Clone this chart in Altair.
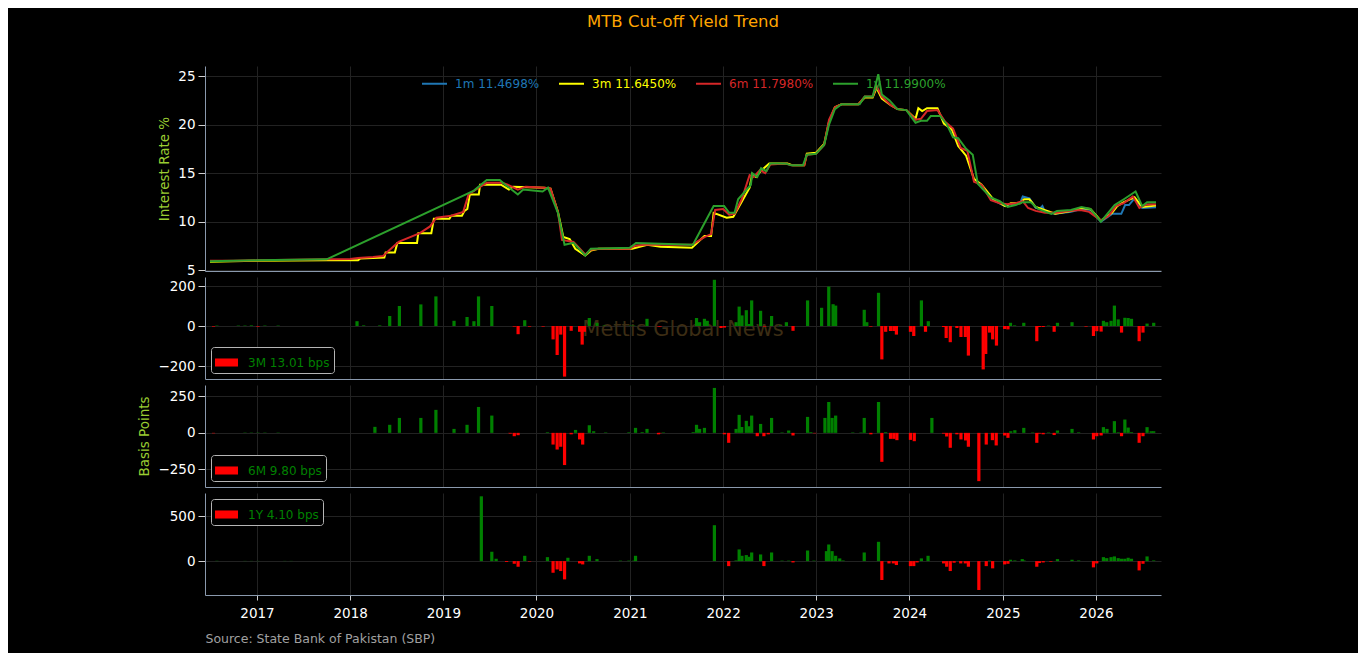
import altair as alt
import pandas as pd

# ---------------- yield lines (%) ----------------
m1_dates = ["2024-10-10", "2024-11-25", "2025-01-10", "2025-02-01", "2025-03-10", "2025-03-20",
            "2025-04-15", "2025-05-10", "2025-05-25", "2025-06-05", "2025-06-15", "2025-07-25",
            "2025-09-25", "2025-11-05", "2025-12-10", "2026-01-20", "2026-03-05", "2026-04-10",
            "2026-04-25", "2026-05-10", "2026-06-01", "2026-07-01", "2026-08-24"]
m1_rates = [13.6, 12.2, 11.6, 11.8, 11.9, 12.6, 12.4, 11.4, 11.3, 11.6, 11.0, 10.8,
            11.0, 11.3, 11.2, 10.0, 10.8, 10.8, 11.7, 11.7, 12.4, 11.4, 11.4698]

m3_dates = ["2016-07-01", "2017-01-01", "2017-10-01", "2018-02-01", "2018-02-10", "2018-05-15",
            "2018-05-20", "2018-06-25", "2018-07-05", "2018-09-20", "2018-09-25", "2018-11-15",
            "2018-11-25", "2019-01-25", "2019-02-01", "2019-03-15", "2019-03-25", "2019-04-05",
            "2019-04-15", "2019-05-20", "2019-05-25", "2019-08-15", "2019-09-15", "2019-10-01",
            "2020-02-01", "2020-02-25", "2020-03-25", "2020-04-15", "2020-05-10", "2020-06-01",
            "2020-07-10", "2020-08-01", "2020-09-01", "2021-01-10", "2021-03-10", "2021-05-01",
            "2021-09-01", "2021-10-20", "2021-11-15", "2021-11-25", "2022-01-15", "2022-02-10",
            "2022-04-15", "2022-04-25", "2022-05-10", "2022-06-01", "2022-07-01", "2022-09-10",
            "2022-10-01", "2022-11-15", "2022-11-25", "2022-12-31", "2023-02-01", "2023-02-20",
            "2023-03-15", "2023-04-10", "2023-06-15", "2023-07-10", "2023-08-10", "2023-08-25",
            "2023-09-15", "2023-10-20", "2023-11-15", "2023-12-20", "2024-01-25", "2024-02-05",
            "2024-02-20", "2024-03-10", "2024-04-20", "2024-05-15", "2024-06-15", "2024-07-10",
            "2024-08-10", "2024-09-10", "2024-10-10", "2024-11-25", "2025-01-10", "2025-02-01",
            "2025-03-10", "2025-03-25", "2025-04-15", "2025-05-10", "2025-07-25", "2025-09-25",
            "2025-11-05", "2025-12-10", "2026-01-20", "2026-03-05", "2026-03-25", "2026-04-20",
            "2026-06-01", "2026-07-01", "2026-08-24"]
m3_rates = [5.85, 5.95, 6.0, 6.0, 6.2, 6.3,
            6.8, 6.8, 7.8, 7.8, 8.8, 8.8,
            10.3, 10.3, 10.6, 10.6, 11.1, 11.3,
            12.8, 12.8, 13.8, 13.8, 13.3, 13.6,
            13.5, 13.4, 11.0, 8.4, 8.2, 7.2,
            6.5, 7.0, 7.2, 7.2, 7.6, 7.4,
            7.3, 8.5, 8.5, 10.9, 10.4, 10.5,
            13.5, 14.9, 14.6, 15.3, 16.0, 16.0,
            15.8, 15.8, 17.0, 17.1, 18.0, 20.3,
            21.8, 22.1, 22.1, 22.8, 22.8, 23.8,
            22.7, 22.0, 21.6, 21.5, 20.6, 21.7,
            21.4, 21.7, 21.7, 20.1, 19.5, 17.8,
            16.8, 14.4, 13.8, 12.3, 11.6, 11.9,
            11.9, 12.3, 12.3, 11.5, 10.8, 11.1,
            11.4, 11.3, 10.1, 10.9, 11.6, 12.0,
            12.5, 11.5, 11.645]

m6_dates = ["2016-07-01", "2016-10-01", "2017-01-01", "2017-06-01", "2017-10-01", "2018-01-01",
            "2018-02-01", "2018-04-01", "2018-05-10", "2018-06-01", "2018-07-10", "2018-10-01",
            "2018-11-10", "2018-12-05", "2019-02-01", "2019-03-20", "2019-04-10", "2019-05-20",
            "2019-06-20", "2019-08-20", "2019-09-10", "2019-10-20", "2019-11-20", "2020-02-01",
            "2020-02-25", "2020-03-25", "2020-04-10", "2020-05-25", "2020-07-10", "2020-08-01",
            "2020-09-01", "2020-12-31", "2021-01-20", "2021-03-01", "2021-09-01", "2021-10-20",
            "2021-11-15", "2021-12-01", "2022-01-01", "2022-01-25", "2022-02-15", "2022-03-15",
            "2022-04-15", "2022-05-01", "2022-05-25", "2022-06-15", "2022-07-05", "2022-09-01",
            "2022-09-25", "2022-11-15", "2022-11-25", "2022-12-31", "2023-02-01", "2023-02-20",
            "2023-03-15", "2023-04-10", "2023-06-15", "2023-07-10", "2023-08-10", "2023-08-25",
            "2023-09-15", "2023-10-20", "2023-11-15", "2023-12-20", "2024-01-25", "2024-02-15",
            "2024-03-10", "2024-04-20", "2024-05-20", "2024-06-20", "2024-07-20", "2024-08-15",
            "2024-09-10", "2024-10-10", "2024-11-15", "2024-12-20", "2025-01-20", "2025-02-20",
            "2025-03-20", "2025-04-10", "2025-05-10", "2025-06-15", "2025-08-01", "2025-09-15",
            "2025-11-01", "2025-12-05", "2026-01-20", "2026-02-20", "2026-03-20", "2026-04-20",
            "2026-05-25", "2026-06-20", "2026-07-15", "2026-08-24"]
m6_rates = [5.95, 5.95, 6.0, 6.05, 6.1, 6.15,
            6.25, 6.35, 6.45, 7.0, 7.9, 8.8,
            9.5, 10.4, 10.6, 11.0, 12.8, 13.5,
            14.0, 14.0, 13.8, 13.3, 13.6, 13.5,
            13.4, 11.0, 8.1, 7.9, 6.6, 7.1,
            7.2, 7.2, 7.5, 7.6, 7.6, 8.4,
            8.7, 11.2, 11.3, 10.7, 10.8, 12.3,
            14.8, 14.6, 15.3, 15.0, 15.9, 16.0,
            15.8, 15.8, 16.9, 17.0, 17.9, 20.5,
            21.8, 22.1, 22.1, 22.9, 22.9, 24.0,
            22.9, 22.0, 21.6, 21.5, 20.5, 20.6,
            21.4, 21.5, 20.3, 19.6, 17.6, 17.3,
            14.1, 13.8, 12.2, 11.9, 11.8, 11.9,
            12.1, 11.4, 11.1, 10.9, 10.9, 11.1,
            11.2, 11.0, 10.1, 10.6, 11.6, 11.9,
            12.6, 11.4, 11.75, 11.798]

y1_dates = ["2016-07-01", "2017-01-01", "2017-10-01", "2019-05-01", "2019-06-20", "2019-08-10",
            "2019-09-01", "2019-10-20", "2019-11-10", "2020-01-25", "2020-02-15", "2020-03-25",
            "2020-04-20", "2020-05-25", "2020-07-10", "2020-08-01", "2020-12-31", "2021-01-25",
            "2021-09-05", "2021-11-25", "2022-01-05", "2022-01-25", "2022-02-15", "2022-03-01",
            "2022-04-20", "2022-04-25", "2022-05-15", "2022-05-30", "2022-06-20", "2022-07-05",
            "2022-09-01", "2022-09-25", "2022-11-10", "2022-11-25", "2022-12-31", "2023-02-01",
            "2023-02-20", "2023-03-15", "2023-04-10", "2023-06-20", "2023-07-10", "2023-08-10",
            "2023-09-01", "2023-09-15", "2023-10-15", "2023-11-15", "2023-12-20", "2024-01-25",
            "2024-02-15", "2024-03-10", "2024-03-25", "2024-04-30", "2024-05-25", "2024-06-20",
            "2024-07-10", "2024-08-10", "2024-09-05", "2024-09-25", "2024-10-20", "2024-11-15",
            "2024-12-20", "2025-01-20", "2025-02-20", "2025-03-20", "2025-04-20", "2025-05-20",
            "2025-07-10", "2025-08-01", "2025-09-25", "2025-11-05", "2025-12-10", "2026-01-20",
            "2026-03-15", "2026-04-20", "2026-06-05", "2026-07-01", "2026-07-20", "2026-08-24"]
y1_rates = [5.9, 6.0, 6.1, 13.2, 14.3, 14.3,
            13.8, 12.8, 13.3, 13.1, 13.5, 10.9,
            7.6, 7.8, 6.5, 7.2, 7.3, 7.8,
            7.6, 11.6, 11.6, 10.9, 10.9, 12.3,
            13.8, 15.0, 14.6, 15.5, 15.2, 16.0,
            16.0, 15.8, 15.8, 16.9, 17.0, 17.9,
            20.0, 21.6, 22.1, 22.1, 22.9, 22.9,
            25.2, 23.1, 22.5, 21.6, 21.5, 20.2,
            20.4, 20.4, 20.9, 20.9, 20.1, 18.7,
            18.6, 17.5, 16.9, 13.9, 13.2, 12.5,
            12.1, 11.5, 11.7, 12.0, 12.0, 11.3,
            10.8, 11.1, 11.2, 11.5, 11.3, 10.0,
            11.7, 12.3, 13.1, 11.6, 12.0, 11.99]

series_labels = ["1m 11.4698%", "3m 11.6450%", "6m 11.7980%", "1y 11.9900%"]
series_colors = ["#1f77b4", "#ffff00", "#d62728", "#2ca02c"]

# ---------------- change bars (bps) ----------------
b3_dates = ["2016-07-15", "2016-07-28", "2016-10-20", "2016-11-15", "2016-12-10", "2017-01-05",
            "2017-02-01", "2017-03-25", "2018-01-28", "2018-02-23", "2018-04-27", "2018-06-05",
            "2018-07-13", "2018-10-05", "2018-12-03", "2019-02-12", "2019-04-04", "2019-05-01",
            "2019-05-19", "2019-07-10", "2019-10-06", "2019-10-21", "2019-11-16", "2019-12-05",
            "2020-01-27", "2020-03-06", "2020-03-22", "2020-04-05", "2020-04-20", "2020-05-16",
            "2020-06-18", "2020-06-28", "2020-07-07", "2020-07-26", "2020-08-25", "2020-09-22",
            "2021-01-03", "2021-01-16", "2021-03-09", "2021-04-23", "2021-04-29", "2021-09-19",
            "2021-10-01", "2021-10-20", "2021-10-31", "2021-11-28", "2021-12-24", "2022-01-06",
            "2022-02-21", "2022-03-05", "2022-03-16", "2022-04-02", "2022-04-13", "2022-04-23",
            "2022-05-28", "2022-06-13", "2022-07-10", "2022-08-14", "2022-09-06", "2022-10-02",
            "2022-11-28", "2023-01-22", "2023-02-19", "2023-03-08", "2023-03-18", "2023-07-08",
            "2023-07-18", "2023-08-03", "2023-09-02", "2023-09-15", "2023-09-30", "2023-10-19",
            "2023-11-01", "2023-11-11", "2024-01-05", "2024-01-18", "2024-02-17", "2024-03-04",
            "2024-03-15", "2024-05-14", "2024-05-24", "2024-06-09", "2024-07-05", "2024-07-21",
            "2024-08-07", "2024-08-19", "2024-10-16", "2024-10-26", "2024-11-10", "2024-11-22",
            "2024-12-07", "2025-01-08", "2025-01-21", "2025-01-31", "2025-02-16", "2025-03-24",
            "2025-05-14", "2025-05-24", "2025-06-08", "2025-06-29", "2025-07-21", "2025-08-03",
            "2025-09-29", "2025-11-23", "2025-12-22", "2026-01-04", "2026-01-21", "2026-01-30",
            "2026-02-12", "2026-03-01", "2026-03-14", "2026-03-29", "2026-04-11", "2026-04-24",
            "2026-05-07", "2026-05-20", "2026-06-19", "2026-07-04", "2026-07-20", "2026-08-15"]
b3_bps = [-3, 2, 2, 2, 3, -3,
          2, 2, 24, 3, 3, 50,
          100, 108, 148, 26, 45, 24,
          148, 100, -3, -41, 29, -3,
          -3, -67, -145, -43, -253, -24,
          -29, -93, -29, 40, 16, 2,
          2, 2, 36, -2, -3, 40,
          19, 36, 26, 231, -10, -8,
          19, 97, 53, 79, 10, 128,
          76, -3, 50, 3, 19, -24,
          128, 91, 197, 109, 102, 81,
          19, -3, 166, -167, -29, -25,
          -25, -43, -29, -50, 128, -29,
          24, -5, -60, -81, -10, -55,
          -55, -148, -217, -140, -33, -67,
          -98, -15, -17, 16, 3, 16,
          -76, -5, -5, 2, -29, 16,
          19, -3, -50, -26, -28, 26,
          19, 26, 102, 33, -33, 41,
          40, 36, -76, -33, 12, 16]

b6_dates = ["2016-07-15", "2016-11-15", "2016-12-10", "2017-01-05", "2017-02-01", "2017-03-25",
            "2018-04-08", "2018-06-05", "2018-07-13", "2018-10-05", "2018-12-03", "2019-02-12",
            "2019-04-04", "2019-05-19", "2019-07-10", "2019-09-20", "2019-10-06", "2019-10-21",
            "2020-02-13", "2020-03-06", "2020-03-22", "2020-04-05", "2020-04-20", "2020-05-16",
            "2020-06-02", "2020-06-18", "2020-06-30", "2020-07-26", "2020-08-12", "2020-09-28",
            "2020-12-28", "2021-01-23", "2021-02-18", "2021-03-09", "2021-04-23", "2021-04-29",
            "2021-05-12", "2021-09-06", "2021-09-19", "2021-10-01", "2021-10-20", "2021-11-28",
            "2022-01-06", "2022-01-23", "2022-02-21", "2022-03-05", "2022-03-15", "2022-04-02",
            "2022-04-13", "2022-04-23", "2022-05-15", "2022-05-28", "2022-06-10", "2022-06-27",
            "2022-07-10", "2022-08-20", "2022-09-15", "2022-10-02", "2022-11-28", "2022-12-11",
            "2022-12-26", "2023-02-04", "2023-02-19", "2023-03-04", "2023-03-18", "2023-05-24",
            "2023-06-25", "2023-07-08", "2023-08-03", "2023-09-02", "2023-09-15", "2023-09-30",
            "2023-10-19", "2023-11-01", "2023-11-13", "2024-01-05", "2024-01-20", "2024-03-29",
            "2024-05-14", "2024-05-26", "2024-06-09", "2024-07-05", "2024-07-21", "2024-08-08",
            "2024-08-19", "2024-09-29", "2024-10-28", "2024-11-21", "2024-12-06", "2025-01-08",
            "2025-01-21", "2025-02-01", "2025-02-17", "2025-03-24", "2025-04-28", "2025-05-14",
            "2025-05-24", "2025-06-08", "2025-06-29", "2025-07-21", "2025-08-03", "2025-09-29",
            "2025-10-25", "2025-12-22", "2026-01-04", "2026-01-21", "2026-01-30", "2026-02-13",
            "2026-03-14", "2026-03-29", "2026-04-11", "2026-04-24", "2026-05-07", "2026-05-20",
            "2026-06-19", "2026-07-04", "2026-07-20", "2026-08-05", "2026-08-15"]
b6_bps = [-3, 2, 2, 2, 2, 2,
          41, 55, 102, 102, 157, 27,
          55, 177, 118, -5, -23, -16,
          4, -80, -114, -95, -220, -10,
          20, -45, -80, 52, 11, 3,
          4, 34, 5, 27, -10, -3,
          3, 5, 55, 27, 34, 307,
          -10, -68, 27, 123, 40, 82,
          45, 118, -23, 61, -23, -10,
          102, 3, 16, -18, 109, 5,
          -3, 102, 211, 102, 118, 3,
          3, 102, -10, 211, -198, 5,
          -41, -41, -50, -48, -57, 102,
          -5, -25, -102, -10, -45, -52,
          -95, -330, -80, -50, -86, -18,
          -34, 11, 18, 34, 3, -68,
          -5, -10, 3, -15, 16, 27,
          4, -45, -23, -18, 39, 27,
          80, 4, -23, 91, 36, 5,
          -68, -23, 39, 11, 11]

b12_dates = ["2016-07-28", "2016-11-15", "2016-12-10", "2017-01-05", "2017-04-20", "2017-05-15",
             "2019-05-30", "2019-07-10", "2019-07-27", "2019-09-06", "2019-10-06", "2019-10-21",
             "2019-11-16", "2019-12-05", "2020-02-13", "2020-03-06", "2020-03-22", "2020-04-05",
             "2020-04-20", "2020-05-03", "2020-06-18", "2020-06-30", "2020-07-26", "2020-08-25",
             "2020-11-25", "2020-12-28", "2021-01-16", "2021-01-23", "2021-11-28", "2022-01-23",
             "2022-02-21", "2022-03-05", "2022-03-16", "2022-04-02", "2022-04-13", "2022-04-23",
             "2022-05-28", "2022-06-10", "2022-07-10", "2022-08-20", "2022-09-15", "2022-10-02",
             "2022-11-28", "2022-12-23", "2023-02-10", "2023-02-19", "2023-03-04", "2023-03-18",
             "2023-04-03", "2023-04-16", "2023-07-08", "2023-09-02", "2023-09-15", "2023-10-13",
             "2023-10-30", "2023-11-11", "2024-01-05", "2024-01-18", "2024-01-31", "2024-02-17",
             "2024-03-14", "2024-05-14", "2024-05-26", "2024-06-09", "2024-06-24", "2024-07-20",
             "2024-08-07", "2024-08-19", "2024-09-29", "2024-10-28", "2024-11-10", "2024-11-22",
             "2025-01-08", "2025-01-21", "2025-01-31", "2025-02-17", "2025-03-18", "2025-03-25",
             "2025-05-14", "2025-05-24", "2025-06-08", "2025-07-08", "2025-08-03", "2025-09-29",
             "2025-10-25", "2025-12-22", "2026-01-04", "2026-01-30", "2026-02-12", "2026-03-01",
             "2026-03-14", "2026-03-29", "2026-04-11", "2026-04-24", "2026-05-07", "2026-05-20",
             "2026-06-19", "2026-07-04", "2026-07-20", "2026-08-15"]
b12_bps = [3, 2, 2, 2, 2, 2,
           722, 104, 26, -10, -30, -63,
           59, -5, 44, -130, -93, -111,
           -204, 37, -26, -37, 59, 22,
           5, 5, 5, 59, 400, -56,
           7, 130, 59, 67, 48, 96,
           74, -56, 96, 5, 5, -15,
           118, 5, 111, 185, 111, 59,
           30, 7, 96, 215, -211, -26,
           -26, -44, -56, -56, -15, 30,
           59, -26, -63, -111, -18, -26,
           -26, -63, -322, -56, 5, -81,
           -37, -30, 15, 7, 22, 7,
           -63, -22, -15, -7, 22, 15,
           7, -70, -26, 44, 33, 44,
           52, 33, 26, 26, 37, 26,
           -104, -30, 52, 7]

bar_labels = ["3M 13.01 bps", "6M 9.80 bps", "1Y 4.10 bps"]

# ---------------- styling ----------------
FONT = "DejaVu Sans"
SPINE = "#8a99ad"
GRID = "#222222"
TICK = "#d0d0d0"
GREEN = "#008000"
RED = "#ff0000"
AXIS_TITLE = "#9acd32"
W = 956

xs = alt.Scale(domain=[alt.DateTime(year=2016, month=7, date=1),
                       alt.DateTime(year=2026, month=8, date=24)])
YEAR_STEP = {"interval": "year", "step": 1}


def x_enc(bottom=False):
    if bottom:
        ax = alt.Axis(format="%Y", tickCount=YEAR_STEP, labels=True, ticks=True, tickSize=5,
                      tickColor=TICK, labelColor="white", labelFontSize=13.5, labelPadding=6,
                      domainColor=SPINE, grid=True, gridColor=GRID,
                      title="Source: State Bank of Pakistan (SBP)", titleAnchor="start",
                      titleAlign="left", titleColor="#a0a0a0", titleFontSize=12.5,
                      titleFontWeight="normal", titlePadding=13)
        return alt.X("date:T", scale=xs, axis=ax)
    ax = alt.Axis(format="%Y", tickCount=YEAR_STEP, labels=False, ticks=False,
                  domainColor=SPINE, grid=True, gridColor=GRID)
    return alt.X("date:T", scale=xs, axis=ax, title=None)


def y_axis(values, title=""):
    kw = dict(values=values, tickSize=7, tickColor=TICK, labelColor="white", labelFontSize=13.5,
              labelPadding=3, domainColor=SPINE, grid=True, gridColor=GRID)
    if title:
        kw.update(title=title, titleColor=AXIS_TITLE, titleFontSize=13.5,
                  titleFontWeight="normal", titlePadding=6)
    return alt.Axis(**kw)


# ---------------- top panel: yield lines ----------------
label_color_expr = " : ".join(
    f"datum.value === '{l}' ? '{c}'" for l, c in zip(series_labels[:-1], series_colors[:-1])
) + f" : '{series_colors[-1]}'"

top_legend = alt.Legend(orient="none", legendX=216, legendY=4, direction="horizontal",
                        title=None, symbolType="stroke", symbolSize=625, symbolStrokeWidth=2,
                        labelFontSize=12, labelOffset=7, columnPadding=15, gridAlign="all",
                        padding=0, labelColor={"expr": label_color_expr})
color_scale = alt.Scale(domain=series_labels, range=series_colors)

line_sets = [(m1_dates, m1_rates), (m3_dates, m3_rates), (m6_dates, m6_rates), (y1_dates, y1_rates)]
line_layers = []
for (d, r), lab in zip(line_sets, series_labels):
    df = pd.DataFrame({"date": d, "rate": r, "series": lab})
    yaxis = y_axis([5, 10, 15, 20, 25], "Interest Rate %")
    line_layers.append(
        alt.Chart(df).mark_line(strokeWidth=2, clip=True).encode(
            x=x_enc(),
            y=alt.Y("rate:Q", scale=alt.Scale(domain=[4.9, 26.05], nice=False, zero=False), axis=yaxis),
            color=alt.Color("series:N", scale=color_scale, legend=top_legend),
        )
    )

top = alt.layer(*line_layers).properties(
    width=W, height=205,
    title=alt.TitleParams("MTB Cut-off Yield Trend", color="#FFA500", fontSize=16.5,
                          fontWeight="normal", font=FONT, anchor="middle", frame="group", offset=36),
)


# ---------------- bar panels ----------------
def bar_panel(dates, vals, label, ydom, yticks, orient, ytitle="", bottom=False, watermark=False):
    df = pd.DataFrame({"date": dates, "bps": vals, "label": label})
    leg = alt.Legend(orient=orient, offset=6, title=None,
                     symbolType="M-1,-0.35H1V0.35H-1Z", symbolSize=529, symbolStrokeWidth=0,
                     labelColor=GREEN, labelFontSize=12, labelOffset=10, padding=4,
                     strokeColor="#b5b5b5", fillColor="#000000", cornerRadius=3)
    bars = alt.Chart(df).mark_bar(size=3.2, clip=True).encode(
        x=x_enc(bottom),
        y=alt.Y("bps:Q", scale=alt.Scale(domain=ydom, nice=False), axis=y_axis(yticks, ytitle),
                title=ytitle if ytitle else None),
        color=alt.Color("label:N", scale=alt.Scale(domain=[label], range=[RED]), legend=leg,
                        condition={"test": "datum.bps > 0", "value": GREEN}),
    )
    layers = []
    if watermark:
        wm = alt.Chart(pd.DataFrame({"t": ["Mettis Global News"]})).mark_text(
            fontSize=21, color="#3c2d14", align="center", baseline="middle", font=FONT
        ).encode(text="t:N", x=alt.value(478), y=alt.value(53))
        layers.append(wm)
    layers.append(bars)
    return alt.layer(*layers).properties(width=W, height=102)


p3 = bar_panel(b3_dates, b3_bps, bar_labels[0], [-265, 245], [-200, 0, 200], "bottom-left",
               watermark=True)
p6 = bar_panel(b6_dates, b6_bps, bar_labels[1], [-370, 327], [-250, 0, 250], "bottom-left",
               ytitle="Basis Points")
p12 = bar_panel(b12_dates, b12_bps, bar_labels[2], [-378, 759], [0, 500], "top-left", bottom=True)

chart = alt.vconcat(top, p3, p6, p12, spacing=6, bounds="flush").resolve_scale(
    x="shared", y="independent", color="independent"
).resolve_legend(color="independent").properties(
    background="#000000",
    padding={"left": 129, "top": 5, "right": 197, "bottom": 8},
).configure(font=FONT).configure_view(strokeWidth=0)

chart.save("out.html", embed_options={"renderer": "svg", "actions": False})
